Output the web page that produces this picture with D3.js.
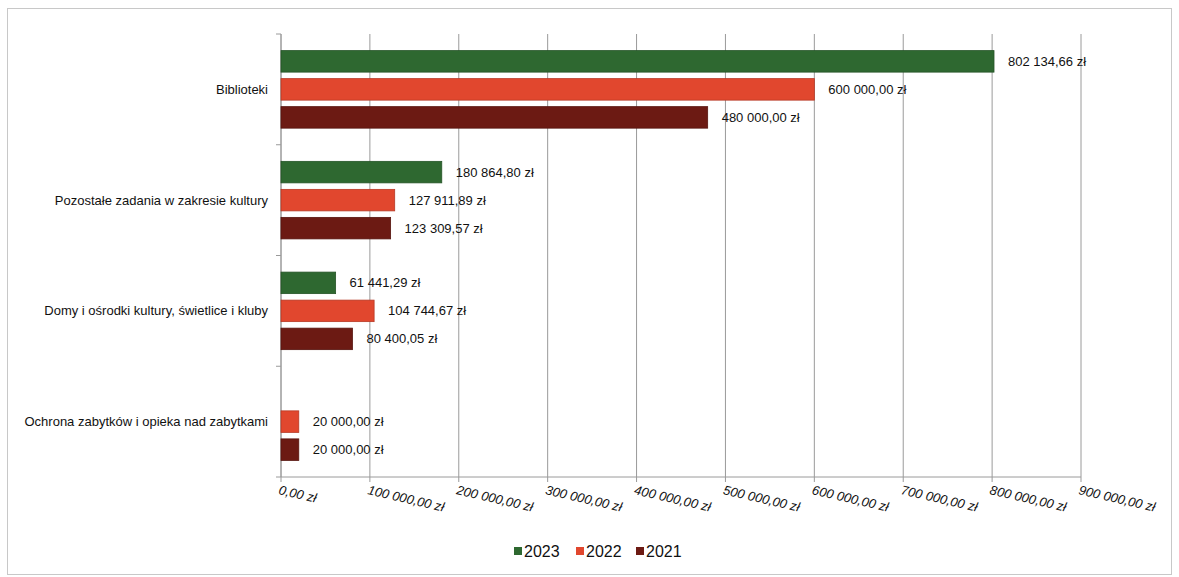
<!DOCTYPE html>
<meta charset="utf-8">
<style>
  body { margin: 0; background: #fff; }
  text { font-family: "Liberation Sans", Arial, sans-serif; fill: #111; }
  .cat { font-size: 13px; }
  .val { font-size: 13px; }
  .tick-lab { font-size: 13px; font-style: italic; }
  .leg { font-size: 16px; }
</style>
<body>
<script src="https://cdn.jsdelivr.net/npm/d3@7/dist/d3.min.js"></script>
<script>
  // data
  var categories = ["Biblioteki", "Pozostałe zadania w zakresie kultury",
    "Domy i ośrodki kultury, świetlice i kluby", "Ochrona zabytków i opieka nad zabytkami"];
  var years = ["2023", "2022", "2021"];
  var values2023 = [802134.66, 180864.80, 61441.29, null];
  var values2022 = [600000.00, 127911.89, 104744.67, 20000.00];
  var values2021 = [480000.00, 123309.57, 80400.05, 20000.00];
  var xTicks = [0, 100000, 200000, 300000, 400000, 500000, 600000, 700000, 800000, 900000];
  var colors = { "2023": "#2e6830", "2022": "#e1472e", "2021": "#6c1a13" };

  var seriesByYear = { "2023": values2023, "2022": values2022, "2021": values2021 };

  // plot area (note: "top" is reserved on window, so use an object)
  var W = 1179, H = 577;
  var plot = { left: 281, right: 1081, top: 34, bottom: 477 };

  var pl = d3.formatLocale({ decimal: ",", thousands: " ", grouping: [3], currency: ["", " zł"] });
  var fmt = function (v) { return pl.format(",.2f")(v) + " zł"; };

  var svg = d3.select("body").append("svg")
    .attr("width", W).attr("height", H);

  // chart border
  svg.append("rect")
    .attr("x", 7.5).attr("y", 8.5)
    .attr("width", 1164).attr("height", 566)
    .attr("fill", "#fff")
    .attr("stroke", "#c8c8c8");

  var x = d3.scaleLinear().domain([0, 900000]).range([plot.left, plot.right]);
  var y0 = d3.scaleBand().domain(categories).range([plot.top, plot.bottom]).padding(0);
  var y1 = d3.scaleBand().domain(years)
    .range([16.6, y0.bandwidth() - 16.6]).paddingInner(0.232).paddingOuter(0);

  // vertical gridlines
  svg.append("g").selectAll("line")
    .data(xTicks)
    .enter().append("line")
    .attr("x1", function (d) { return x(d); })
    .attr("x2", function (d) { return x(d); })
    .attr("y1", plot.top).attr("y2", plot.bottom + 5)
    .attr("stroke", "#9a9a9a").attr("stroke-width", 1);

  // bottom axis line
  svg.append("line")
    .attr("x1", plot.left).attr("x2", plot.right)
    .attr("y1", plot.bottom).attr("y2", plot.bottom)
    .attr("stroke", "#9a9a9a");

  // left axis with category ticks
  svg.append("line")
    .attr("x1", plot.left).attr("x2", plot.left)
    .attr("y1", plot.top).attr("y2", plot.bottom)
    .attr("stroke", "#9a9a9a");
  svg.append("g").selectAll("line")
    .data(d3.range(categories.length + 1))
    .enter().append("line")
    .attr("x1", plot.left - 5).attr("x2", plot.left)
    .attr("y1", function (i) { return plot.top + i * y0.step(); })
    .attr("y2", function (i) { return plot.top + i * y0.step(); })
    .attr("stroke", "#9a9a9a");

  // bars
  var rows = [];
  categories.forEach(function (c, i) {
    years.forEach(function (yr) {
      var v = seriesByYear[yr][i];
      if (v != null) rows.push({ cat: c, year: yr, value: v });
    });
  });

  var g = svg.append("g");
  g.selectAll("rect.bar")
    .data(rows)
    .enter().append("rect")
    .attr("class", "bar")
    .attr("x", x(0))
    .attr("y", function (d) { return y0(d.cat) + y1(d.year); })
    .attr("width", function (d) { return x(d.value) - x(0); })
    .attr("height", y1.bandwidth())
    .attr("fill", function (d) { return colors[d.year]; })
    .attr("stroke", function (d) { return d3.color(colors[d.year]).darker(0.6); })
    .attr("stroke-width", 0.8);

  // value labels
  g.selectAll("text.val")
    .data(rows)
    .enter().append("text")
    .attr("class", "val")
    .attr("x", function (d) { return x(d.value) + 14; })
    .attr("y", function (d) { return y0(d.cat) + y1(d.year) + y1.bandwidth() / 2; })
    .attr("dy", "0.35em")
    .text(function (d) { return fmt(d.value); });

  // category labels
  svg.append("g").selectAll("text")
    .data(categories)
    .enter().append("text")
    .attr("class", "cat")
    .attr("text-anchor", "end")
    .attr("x", 268)
    .attr("y", function (d) { return y0(d) + y0.bandwidth() / 2; })
    .attr("dy", "0.35em")
    .text(function (d) { return d; });

  // x tick labels, rotated
  svg.append("g").selectAll("text")
    .data(xTicks)
    .enter().append("text")
    .attr("class", "tick-lab")
    .attr("transform", function (d) { return "translate(" + (x(d) - 3) + "," + (plot.bottom + 17) + ") rotate(13)"; })
    .text(function (d) { return fmt(d); });

  // legend
  var legend = svg.append("g");
  var legX = [514, 576, 636];
  years.forEach(function (yr, i) {
    legend.append("rect")
      .attr("x", legX[i]).attr("y", 547)
      .attr("width", 8).attr("height", 8)
      .attr("fill", colors[yr]);
    legend.append("text")
      .attr("class", "leg")
      .attr("x", legX[i] + 10).attr("y", 551)
      .attr("dy", "0.36em")
      .text(yr);
  });
</script>
</body>
